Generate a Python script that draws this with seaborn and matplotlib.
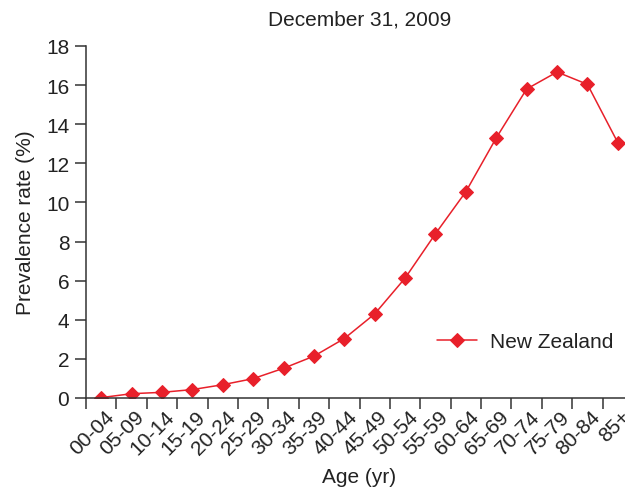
import matplotlib
matplotlib.use("Agg")
import matplotlib.pyplot as plt
import seaborn as sns
import pandas as pd

age_groups = ["00-04", "05-09", "10-14", "15-19", "20-24", "25-29", "30-34", "35-39",
              "40-44", "45-49", "50-54", "55-59", "60-64", "65-69", "70-74", "75-79",
              "80-84", "85+"]
prevalence = [0.02, 0.22, 0.29, 0.43, 0.68, 0.99, 1.52, 2.14, 3.04, 4.3, 6.13, 8.4,
              10.55, 13.3, 15.8, 16.67, 16.04, 13.06]
series_name = "New Zealand"
title = "December 31, 2009"

sns.set_style("ticks")
plt.rcParams['font.family'] = ['Liberation Sans', 'DejaVu Sans']

df = pd.DataFrame({"Age": age_groups, "Prevalence": prevalence, "Country": series_name})
df["x"] = range(len(age_groups))

fig = plt.figure(figsize=(6.25, 4.89), dpi=100)
ax = fig.add_axes([86 / 625, 1 - 399 / 489, 547 / 625, 352 / 489])

red = "#e8202a"
text_col = "#222222"
fs = 15
sns.lineplot(data=df, x="x", y="Prevalence", hue="Country", palette=[red],
             marker="D", markersize=7, markeredgecolor=red, linewidth=1.1, ax=ax)

ax.set_xlim(-0.5, len(age_groups) - 0.5)
ax.set_ylim(0, 18)
ax.set_yticks(range(0, 19, 2))
ax.set_xticks([i - 0.5 for i in range(len(age_groups) + 1)], minor=False)
ax.set_xticklabels([])
ax.set_xticks(range(len(age_groups)), minor=True)
ax.set_xticklabels(age_groups, minor=True, rotation=45, ha="right", rotation_mode="anchor")
ax.tick_params(axis="x", which="minor", length=0, pad=6, labelsize=fs, colors=text_col)
ax.tick_params(axis="x", which="major", length=8, width=1.1, color="#333333")
ax.tick_params(axis="y", length=8, width=1.1, color="#333333", labelsize=fs,
               labelcolor=text_col, pad=4)
for lbl in ax.get_xticklabels(minor=True):
    lbl.set_transform(lbl.get_transform() + matplotlib.transforms.ScaledTranslation(3 / 100, 0, fig.dpi_scale_trans))

for s in ["left", "bottom"]:
    ax.spines[s].set_linewidth(1.1)
    ax.spines[s].set_color("#333333")
sns.despine(ax=ax)

ax.set_xlabel("Age (yr)", fontsize=fs, color=text_col, labelpad=7)
ax.set_ylabel("Prevalence rate (%)", fontsize=fs, color=text_col, labelpad=8)
fig.text(360 / 625, 1 - 20 / 489, title, ha="center", va="center", fontsize=fs, color=text_col)

leg = ax.legend(loc="center left", bbox_to_anchor=(0.608, 0.16), frameon=False,
                fontsize=fs, handlelength=1.92, handletextpad=0.63)
for t in leg.get_texts():
    t.set_color(text_col)

fig.savefig("out.png", dpi=100)
